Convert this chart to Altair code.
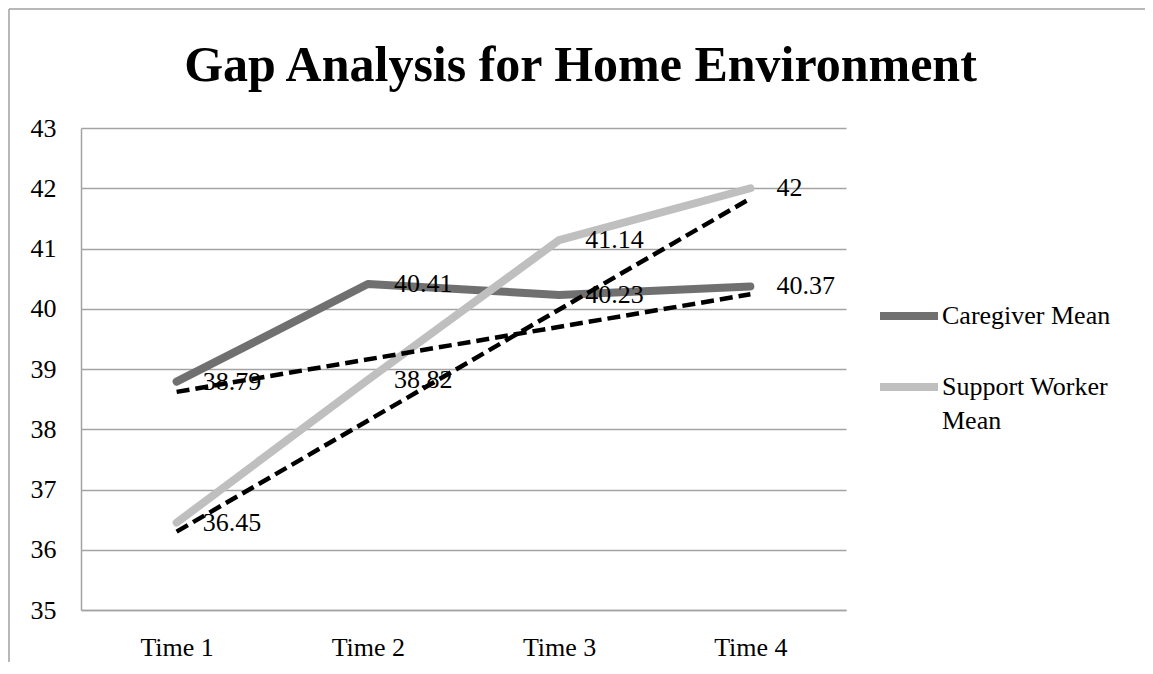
import altair as alt
import pandas as pd

# ---- data ----
times = ["Time 1", "Time 2", "Time 3", "Time 4"]
caregiver = [38.79, 40.41, 40.23, 40.37]
support = [36.45, 38.82, 41.14, 42.0]
series_names = ["Caregiver Mean", "Support Worker Mean"]
series_colors = ["#707070", "#bfbfbf"]
# dashed trend lines (end points)
trend_times = ["Time 1", "Time 4"]
caregiver_trend = [38.62, 40.24]
support_trend = [36.30, 41.83]
y_ticks = [35, 36, 37, 38, 39, 40, 41, 42, 43]

FONT = "Liberation Serif"
GRID = "#a3a3a3"

rows = []
for name, vals in zip(series_names, [caregiver, support]):
    for t, v in zip(times, vals):
        rows.append({"time": t, "value": v, "series": name, "label": f"{v:g}"})
df = pd.DataFrame(rows)

trows = []
for name, vals in zip(series_names, [caregiver_trend, support_trend]):
    for t, v in zip(trend_times, vals):
        trows.append({"time": t, "value": v, "series": name})
tdf = pd.DataFrame(trows)

x_enc = alt.X(
    "time:N",
    sort=times,
    scale=alt.Scale(domain=times, padding=0.5),
    axis=alt.Axis(
        title=None, labelAngle=0, ticks=False, domainColor=GRID, domainWidth=1.5,
        labelFont=FONT, labelFontSize=26, labelColor="black", labelPadding=24,
    ),
)
y_enc = alt.Y(
    "value:Q",
    scale=alt.Scale(domain=[35, 43], nice=False, zero=False),
    axis=alt.Axis(
        title=None, values=y_ticks, ticks=False, grid=True, gridColor=GRID, gridWidth=1.5,
        domainColor=GRID, domainWidth=1.5, labelFont=FONT, labelFontSize=26,
        labelColor="black", labelPadding=25,
    ),
)

lines = alt.Chart(df).mark_line(strokeWidth=8, strokeCap="round", strokeJoin="round").encode(
    x=x_enc,
    y=y_enc,
    color=alt.Color(
        "series:N",
        scale=alt.Scale(domain=series_names, range=series_colors),
        legend=alt.Legend(
            title=None, orient="none", legendX=795, legendY=155, padding=0,
            symbolType="stroke", symbolSize=3364, symbolStrokeWidth=8,
            labelFont=FONT, labelFontSize=26, labelColor="black", labelOffset=0,
            labelLimit=400, rowPadding=22,
            labelExpr="datum.label == 'Support Worker Mean' ? ['Support Worker', 'Mean'] : datum.label",
        ),
    ),
)

labels = alt.Chart(df).mark_text(
    align="left", baseline="middle", dx=26, font=FONT, fontSize=26, color="black"
).encode(x=x_enc, y=y_enc, text="label:N")

trend = alt.Chart(tdf).mark_line(strokeWidth=4.5, strokeDash=[13, 6], color="black").encode(
    x=x_enc, y=y_enc, detail="series:N"
)

frame_top = alt.Chart(alt.Data(values=[{}])).mark_rule(color="#a0a0a0", strokeWidth=1.5).encode(
    x=alt.value(-72), x2=alt.value(1080), y=alt.value(-119)
)
frame_left = alt.Chart(alt.Data(values=[{}])).mark_rule(color="#a0a0a0", strokeWidth=1.5).encode(
    x=alt.value(-72), y=alt.value(-119), y2=alt.value(560)
)

chart = (
    alt.layer(frame_top, frame_left, lines, labels, trend)
    .properties(
        width=765,
        height=482,
        autosize=alt.AutoSizeParams(type="none"),
        padding={"left": 73, "top": 120, "right": 299, "bottom": 52},
        title=alt.TitleParams(
            "Gap Analysis for Home Environment", font=FONT, fontSize=50, fontWeight="bold",
            color="black", anchor="middle", dx=117, baseline="alphabetic", offset=0, dy=123,
        ),
    )
    .configure(font=FONT, style={"guide-label": {"lineHeight": 34, "font": FONT}})
    .configure_axis(labelFont=FONT)
    .configure_legend(labelFont=FONT)
    .configure_view(strokeWidth=0)
)

chart.save("out.html", embed_options={"renderer": "svg", "actions": False})
